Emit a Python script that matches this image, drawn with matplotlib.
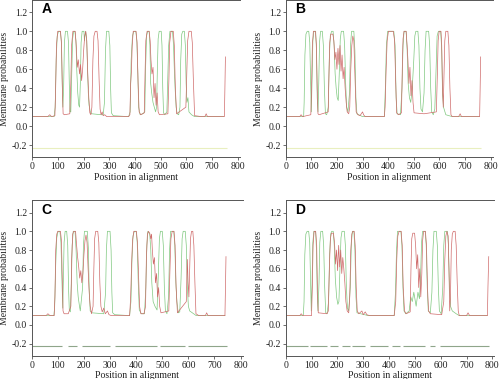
import matplotlib
matplotlib.use("Agg")
import matplotlib.pyplot as plt

# ---------------- data ----------------
panel_labels = ["A", "B", "C", "D"]
x_ticks = [0, 100, 200, 300, 400, 500, 600, 700, 800]
y_ticks = [-0.2, 0.0, 0.2, 0.4, 0.6, 0.8, 1.0, 1.2]
y_ticklabels = ["-0.2", "0.0", "0.2", "0.4", "0.6", "0.8", "1.0", "1.2"]
x_label = "Position in alignment"
y_label = "Membrane probabilities"

A_red = [(0,.10),(60,.10),(68,.12),(75,.10),(88,.11),(91,.40),(94,.85),(99,1.0),(110,1.0),(114,.85),(117,.40),(120,.13),(125,.12),
         (146,.13),(150,.45),(153,.85),(158,1.0),(167,1.0),(171,.85),(175,.62),(179,.70),(184,.55),(188,.65),(192,.48),(196,.60),
         (200,.80),(204,.95),(208,1.0),(212,.90),(216,.55),(220,.30),(224,.14),(228,.12),(232,.20),(236,.70),(240,.95),(245,1.0),
         (252,1.0),(256,.90),(260,.50),(264,.18),(268,.12),(272,.15),(276,.11),(282,.12),(290,.10),(375,.10),(380,.12),(383,.45),
         (386,.58),(389,.85),(393,1.0),(404,1.0),(408,.88),(412,.45),(416,.15),(422,.12),(436,.14),(439,.55),(442,.90),(447,1.0),
         (455,1.0),(459,.90),(462,.70),(466,.55),(470,.62),(474,.30),(478,.45),(482,.22),(486,.35),(490,.15),(495,.12),(528,.13),
         (532,.50),(535,.88),(540,1.0),(549,1.0),(553,.85),(557,.40),(562,.13),(598,.20),(602,.60),(605,.90),(610,1.0),(619,1.0),
         (623,.88),(627,.50),(632,.11),(660,.10),(672,.10),(677,.13),(682,.10),(748,.10),(750,.40),(752,.73)]
A_green = [(0,.10),(85,.10),(89,.20),(93,.70),(97,.95),(102,1.0),(109,1.0),(113,.90),(116,.50),(119,.20),(122,.40),(125,.88),
           (129,1.0),(137,1.0),(141,.88),(144,.45),(147,.15),(150,.15),(154,.60),(157,.92),(161,1.0),(166,1.0),(170,.90),(173,.60),
           (177,.35),(181,.22),(184,.20),(187,.45),(190,.88),(194,1.0),(201,1.0),(203,.90),(205,.95),(208,1.0),(212,.90),(215,.60),
           (218,.35),(221,.22),(226,.15),(232,.13),(268,.12),(276,.12),(281,.25),(285,.80),(289,1.0),(298,1.0),(302,.85),(305,.40),
           (308,.14),(315,.11),(375,.10),(381,.15),(385,.70),(390,.95),(395,1.0),(403,1.0),(407,.90),(411,.55),(414,.20),(420,.12),
           (430,.13),(438,.15),(441,.60),(445,.95),(449,1.0),(455,1.0),(458,.85),(461,.45),(465,.35),(470,.25),(475,.20),(480,.15),
           (484,.20),(487,.60),(490,.92),(494,1.0),(502,1.0),(505,.85),(508,.40),(511,.14),(516,.12),(524,.15),(527,.45),(531,.85),
           (536,1.0),(546,1.0),(550,.85),(553,.60),(556,.40),(560,.20),(564,.13),(570,.12),(575,.20),(578,.70),(582,.97),(586,1.0),
           (592,1.0),(596,.85),(599,.45),(602,.25),(606,.30),(610,.15),(620,.12),(632,.10),(745,.10)]

B_red = [(0,.10),(55,.10),(60,.12),(66,.10),(98,.12),(101,.40),(104,.85),(108,1.0),(116,1.0),(120,.85),(123,.40),(126,.13),
         (130,.12),(166,.15),(169,.55),(172,.88),(176,.97),(184,.97),(188,.90),(192,.70),(196,.78),(200,.60),(204,.82),(208,.65),
         (212,.85),(216,.58),(220,.75),(224,.50),(228,.62),(232,.40),(236,.25),(240,.15),(246,.13),(250,.20),(254,.60),(258,.85),
         (262,.95),(266,.90),(270,.55),(275,.15),(282,.12),(290,.11),(300,.15),(304,.12),(310,.10),(385,.10),(388,.20),(392,.60),
         (396,.90),(401,1.0),(420,1.0),(425,.90),(429,.50),(433,.14),(440,.12),(452,.14),(455,.60),(458,.92),(462,1.0),(470,1.0),
         (474,.85),(477,.70),(481,.45),(485,.62),(489,.32),(493,.48),(497,.25),(501,.14),(540,.13),(588,.15),(592,.55),(595,.90),
         (599,1.0),(606,1.0),(609,.85),(612,.40),(615,.20),(618,.55),(621,.90),(625,1.0),(633,1.0),(637,.85),(641,.40),(645,.12),
         (650,.10),(675,.10),(681,.13),(686,.10),(757,.10),(759,.40),(761,.73)]
B_green = [(0,.10),(70,.10),(72,.25),(75,.75),(79,.97),(84,1.0),(90,1.0),(94,.88),(97,.50),(100,.15),(103,.50),(106,.90),
           (110,1.0),(117,1.0),(120,.80),(123,.30),(126,.15),(129,.45),(132,.88),(136,1.0),(143,1.0),(147,.85),(151,.40),(155,.13),
           (160,.12),(166,.20),(170,.70),(174,.95),(179,1.0),(185,1.0),(189,.85),(193,.55),(197,.40),(201,.30),(205,.27),(209,.55),
           (213,.92),(217,1.0),(226,1.0),(230,.85),(234,.45),(238,.20),(243,.15),(249,.35),(253,.85),(257,1.0),(266,1.0),(270,.80),
           (274,.30),(278,.13),(285,.12),(300,.10),(385,.10),(389,.40),(393,.85),(398,1.0),(422,1.0),(427,.85),(431,.30),(435,.13),
           (448,.12),(454,.40),(458,.85),(462,1.0),(470,1.0),(474,.80),(478,.45),(483,.30),(488,.25),(494,.40),(500,.70),(504,.95),
           (508,1.0),(516,1.0),(520,.85),(524,.40),(528,.18),(534,.15),(540,.35),(544,.80),(548,1.0),(558,1.0),(562,.85),(566,.40),
           (570,.15),(576,.12),(582,.18),(587,.60),(591,.95),(596,1.0),(605,1.0),(609,.80),(612,.35),(616,.20),(625,.12),(650,.10),
           (755,.10)]

C_red = [(0,.10),(55,.10),(62,.12),(70,.10),(86,.10),(89,.30),(92,.80),(96,.97),(100,1.0),(110,1.0),(114,.90),(117,.50),
         (120,.15),(124,.12),(140,.12),(150,.20),(153,.70),(157,.97),(161,1.0),(168,1.0),(172,.85),(176,.72),(180,.62),(184,.50),
         (188,.58),(192,.45),(196,.55),(200,.75),(204,.90),(208,.96),(212,.88),(216,.60),(220,.35),(224,.20),(229,.12),(235,.20),
         (238,.60),(241,.92),(245,1.0),(253,1.0),(257,.88),(261,.45),(265,.20),(270,.14),(276,.18),(282,.12),(290,.15),(296,.11),
         (305,.10),(375,.10),(379,.30),(382,.60),(386,.90),(391,1.0),(401,1.0),(405,.88),(409,.55),(413,.20),(418,.12),(430,.12),
         (436,.20),(439,.70),(443,.97),(447,1.0),(452,.98),(456,.92),(459,.97),(462,.80),(466,.65),(470,.72),(474,.45),(478,.55),
         (482,.30),(486,.40),(490,.20),(495,.13),(525,.15),(529,.55),(533,.92),(538,1.0),(545,1.0),(549,.85),(553,.40),(558,.13),
         (592,.25),(596,.70),(599,.45),(602,.30),(605,.60),(608,.92),(612,1.0),(617,1.0),(621,.85),(625,.45),(629,.12),(640,.10),
         (665,.10),(670,.13),(675,.10),(740,.10),(742,.40),(744,.73)]
C_green = [(0,.10),(85,.10),(88,.20),(92,.65),(96,.93),(101,1.0),(108,1.0),(112,.88),(116,.45),(119,.18),(121,.45),(124,.88),
           (128,1.0),(134,1.0),(138,.85),(141,.40),(144,.16),(148,.14),(152,.45),(155,.85),(159,1.0),(166,1.0),(170,.80),(174,.45),
           (178,.30),(183,.20),(186,.15),(195,.40),(198,.85),(202,1.0),(213,1.0),(217,.82),(220,.40),(224,.15),(230,.13),(276,.12),
           (283,.35),(286,.80),(290,1.0),(300,1.0),(304,.80),(307,.35),(310,.13),(318,.11),(375,.10),(380,.25),(384,.70),(388,.95),
           (393,1.0),(400,1.0),(404,.88),(408,.45),(412,.16),(420,.12),(432,.12),(437,.40),(441,.85),(445,1.0),(452,.97),(456,.80),
           (460,.45),(465,.25),(472,.20),(480,.16),(485,.55),(489,.92),(493,1.0),(500,1.0),(504,.85),(508,.40),(512,.15),(518,.12),
           (524,.30),(528,.80),(532,1.0),(544,1.0),(548,.85),(552,.45),(556,.25),(561,.13),(567,.14),(572,.50),(576,.92),(580,1.0),
           (588,1.0),(592,.85),(596,.40),(600,.20),(605,.15),(630,.10),(740,.10)]

D_red = [(0,.10),(55,.10),(60,.12),(66,.10),(100,.10),(103,.40),(106,.85),(110,1.0),(116,1.0),(120,.85),(123,.35),(126,.13),
         (160,.12),(165,.15),(169,.60),(173,.92),(177,.98),(185,.98),(189,.88),(193,.65),(197,.80),(201,.58),(205,.85),(209,.62),
         (213,.80),(217,.55),(221,.72),(225,.60),(229,.45),(233,.25),(238,.15),(244,.13),(248,.30),(252,.80),(256,.97),(260,1.0),
         (265,1.0),(269,.85),(273,.40),(277,.15),(283,.12),(295,.15),(300,.11),(308,.14),(314,.11),(325,.10),(420,.10),(426,.25),
         (430,.70),(434,.95),(439,1.0),(447,1.0),(451,.85),(455,.40),(460,.15),(466,.12),(482,.14),(485,.60),(488,.92),(492,.98),
         (499,.98),(503,.85),(507,.60),(511,.75),(515,.40),(519,.60),(523,.30),(527,.55),(530,.90),(534,1.0),(541,1.0),(545,.85),
         (549,.40),(553,.15),(560,.12),(604,.11),(612,.25),(616,.70),(620,.95),(624,1.0),(629,.95),(632,.60),(635,.15),(638,.30),
         (641,.80),(645,.97),(649,1.0),(656,1.0),(660,.85),(664,.45),(668,.15),(672,.10),(700,.10),(706,.13),(712,.10),(781,.10),
         (783,.40),(786,.73)]
D_green = [(0,.10),(68,.10),(71,.25),(74,.75),(78,.97),(83,1.0),(89,1.0),(93,.88),(96,.50),(99,.15),(102,.45),(105,.88),
           (109,1.0),(116,1.0),(119,.80),(122,.35),(125,.15),(129,.45),(132,.88),(136,1.0),(143,1.0),(147,.85),(151,.40),(155,.13),
           (160,.12),(166,.25),(170,.75),(174,.97),(178,1.0),(184,1.0),(188,.85),(192,.50),(197,.30),(202,.22),(206,.25),(210,.60),
           (214,.93),(218,1.0),(227,1.0),(231,.85),(235,.40),(239,.18),(244,.15),(250,.40),(254,.85),(258,1.0),(264,1.0),(268,.80),
           (272,.30),(276,.13),(290,.12),(320,.10),(420,.10),(425,.35),(429,.80),(433,1.0),(446,1.0),(450,.85),(454,.40),(458,.15),
           (465,.12),(478,.15),(484,.30),(490,.25),(496,.35),(505,.20),(512,.35),(518,.28),(522,.50),(526,.88),(530,1.0),(540,1.0),
           (544,.85),(548,.40),(552,.15),(560,.13),(566,.35),(570,.80),(574,1.0),(583,1.0),(587,.85),(591,.40),(595,.15),(602,.12),
           (608,.40),(612,.85),(616,1.0),(626,1.0),(630,.85),(634,.40),(638,.20),(645,.15),(660,.12),(672,.10),(780,.10)]

# topology bar near -0.23 (segments start, end)
A_bar = [(0, 760)]
B_bar = [(0, 762)]
C_bar = [(0, 115), (140, 172), (191, 300), (319, 478), (491, 587), (600, 748)]
D_bar = [(0, 88), (95, 159), (172, 204), (217, 249), (256, 307), (326, 397), (410, 443), (456, 539), (558, 578), (597, 786)]
bar_level = -0.228

panels = [
    (A_red, A_green, A_bar, "#e9efbf"),
    (B_red, B_green, B_bar, "#e9efbf"),
    (C_red, C_green, C_bar, "#8fa58a"),
    (D_red, D_green, D_bar, "#8fa58a"),
]

# ---------------- figure ----------------
W, H = 500, 379
fig = plt.figure(figsize=(W / 100, H / 100), dpi=100)
plt.rcParams["font.family"] = ["Liberation Serif", "DejaVu Serif"]

# axes rectangles in pixels: left, top, width, height
rects = [(32.3, 0.0, 207.5, 157.4), (285.7, 0.0, 207.0, 157.4),
         (31.7, 200.4, 211.0, 155.5), (285.7, 200.4, 208.7, 155.5)]

xmax = 808
spine_col = "#555555"
for (red, green, bar, barcol), (l, t, w, h), lab in zip(panels, rects, panel_labels):
    ax = fig.add_axes([l / W, 1 - (t + h) / H, w / W, h / H])
    for s, e in bar:
        ax.plot([s, e], [bar_level, bar_level], color=barcol, lw=0.8, solid_capstyle="butt")
    gx, gy = zip(*green)
    rx, ry = zip(*red)
    ax.plot(gx, gy, color="#7fc87f", lw=0.5)
    ax.plot(rx, ry, color="#cf6a6a", lw=0.5)
    ax.set_xlim(0, xmax)
    ax.set_ylim(-0.33, 1.33)
    ax.set_xticks(x_ticks)
    ax.set_yticks(y_ticks)
    ax.set_yticklabels(y_ticklabels)
    ax.spines["right"].set_visible(False)
    for sp in ("left", "bottom", "top"):
        ax.spines[sp].set_color(spine_col)
        ax.spines[sp].set_linewidth(0.7)
    ax.tick_params(direction="out", length=2, width=0.6, color=spine_col,
                   labelsize=7, pad=1.5, labelcolor="#222222")
    ax.set_xlabel(x_label, fontsize=7, labelpad=1, color="#222222")
    ax.set_ylabel(y_label, fontsize=7, labelpad=2, color="#222222")
    ax.text(0.045, 0.985, lab, transform=ax.transAxes, ha="left", va="top",
            fontsize=10, fontweight="bold", family="Liberation Sans", color="black")

fig.savefig("out.png", dpi=100)
